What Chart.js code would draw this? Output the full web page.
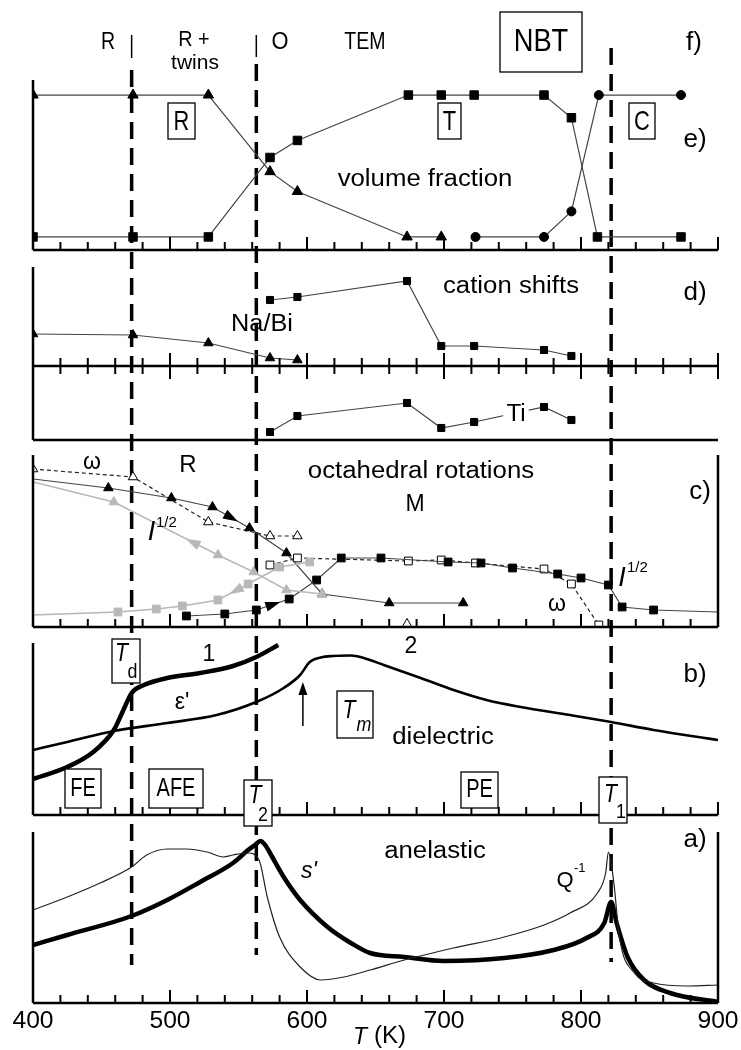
<!DOCTYPE html>
<html>
<head>
<meta charset="utf-8">
<title>NBT phase transitions</title>
<script src="https://cdn.jsdelivr.net/npm/chart.js@4.4.1/dist/chart.umd.min.js"></script>
<style>
  body { margin: 0; background: #fff; }
  #figure { position: relative; width: 741px; height: 1050px; }
  #figure canvas { position: absolute; left: 0; top: 0; }
</style>
</head>
<body>
<div id="figure"></div>
<script>
// ---- temperatures (K) and values per panel ----

// e) volume fraction of the phases
const tRhomb = [400, 473, 528, 573, 593, 673, 698];
const fracRhomb = [1, 1, 1, 0.46, 0.32, 0, 0];
const tTetra = [400, 473, 528, 573, 593, 674, 698, 722, 773, 793, 812, 873];
const fracTetra = [0, 0, 0, 0.56, 0.68, 1, 1, 1, 1, 0.84, 0, 0];
const tCubic = [723, 773, 793, 813, 873];
const fracCubic = [0, 0, 0.18, 1, 1];

// d) cation shifts (arb. units)
const tNaBiR = [400, 473, 528, 573, 593];
const shiftNaBiR = [3.2, 3.1, 2.3, 0.8, 0.6];
const tNaBiT = [573, 593, 673, 698, 722, 773, 793];
const shiftNaBiT = [6.6, 6.9, 8.5, 2.0, 2.0, 1.6, 1.0];
const tTi = [573, 593, 673, 698, 722, 773, 793];
const shiftTi = [0.8, 2.4, 3.7, 1.2, 1.8, 3.3, 2.0];

// c) octahedral rotations (arb. units)
const tRotRCool = [400, 459, 535, 561, 585, 611];
const rotRCool = [14.5, 12.5, 7.2, 5.5, 3.7, 3.3];
const tRotMCool = [400, 462, 490, 509, 535, 557, 580, 602];
const rotMCool = [1.2, 1.5, 1.8, 2.1, 2.7, 4.3, 6.0, 6.5];
const tRotR = [400, 455, 501, 531, 558, 585, 611, 660, 714];
const rotR = [14.8, 13.9, 12.9, 12.0, 9.9, 7.4, 3.3, 2.4, 2.4];
const tRotM = [512, 540, 563, 587, 607, 625, 654, 703, 727, 750, 783, 800, 820, 830, 853, 900];
const rotM = [1.1, 1.3, 1.7, 2.8, 4.7, 6.9, 6.9, 6.5, 6.4, 5.9, 5.3, 4.9, 4.2, 2.0, 1.7, 1.5];
const tOmegaR = [400, 473, 528, 573, 593];
const omegaR = [15.8, 15.0, 10.5, 9.1, 9.1];
const tOmegaRHigh = [673];
const omegaRHigh = [0.3];
const tOmegaM = [573, 593, 674, 698, 723, 773, 793, 813];
const omegaM = [6.2, 6.9, 6.6, 6.7, 6.4, 5.8, 4.3, 0.2];

// b) dielectric permittivity (arb. units)
const tEps1 = [400, 425, 444, 459, 466, 472, 481, 498, 522, 546, 563, 579];
const eps1 = [3.6, 4.8, 6.3, 8.5, 10.5, 12.2, 13.0, 13.7, 14.2, 14.9, 15.8, 17.0];
const tEps2 = [400, 425, 459, 498, 534, 563, 583, 595, 602, 610, 619, 632, 646, 656, 683, 707, 731, 756, 792, 822, 853, 900];
const eps2 = [6.5, 7.3, 8.4, 9.2, 10.0, 11.3, 12.7, 14.0, 15.3, 15.75, 15.9, 15.95, 15.5, 15.0, 13.7, 12.5, 11.5, 10.8, 10.0, 9.3, 8.5, 7.5];

// a) anelastic: compliance s' and losses Q^-1 (arb. units)
const tCompl = [400, 425, 472, 498, 522, 546, 557, 562, 566, 570, 573, 583, 595, 615, 632, 646, 671, 700, 744, 780, 804, 817, 822, 826, 834, 846, 865, 900];
const compl = [5.8, 6.8, 8.7, 10.3, 12.1, 14.0, 15.3, 15.8, 16.2, 15.7, 15.0, 12.6, 10.3, 7.6, 6.0, 5.0, 4.6, 4.2, 4.5, 5.3, 6.5, 8.0, 10.1, 8.0, 4.6, 2.3, 1.0, 0.1];
const tLoss = [400, 425, 449, 472, 483, 498, 512, 527, 539, 546, 557, 565, 571, 580, 595, 610, 627, 646, 671, 707, 744, 773, 792, 812, 818, 820, 824, 828, 839, 853, 878, 900];
const loss = [9.3, 10.6, 12.0, 13.6, 14.8, 15.4, 15.4, 15.1, 14.6, 14.8, 15.0, 14.3, 10.6, 6.6, 3.6, 2.3, 2.6, 3.3, 4.3, 5.5, 6.6, 7.8, 9.0, 11.0, 13.0, 15.1, 12.0, 6.6, 3.0, 2.0, 1.7, 1.8];

// transition temperatures and temperature axis
const transitions = { Td: 472, T2: 563, T1: 822 };
const xTickLabels = [400, 500, 600, 700, 800, 900];
const T_MIN = 400, T_MAX = 900, T_STEP = 20;

// ---- styling ----
const FONT = '"Liberation Sans", Arial, Helvetica, sans-serif';
const INK = '#000';
const LINE = '#444';
const GREY = '#b8b8b8';
const W = 741, H = 1050;

const frames = {
  e: { top: 80, bottom: 250 },
  d: { top: 267, bottom: 440 },
  c: { top: 455, bottom: 627 },
  b: { top: 643, bottom: 815 },
  a: { top: 832, bottom: 1003 }
};

function series(temps, vals, opts) {
  return Object.assign({
    data: temps.map((t, i) => ({ x: t, y: vals[i] })),
    borderColor: LINE,
    borderWidth: 1.2,
    tension: 0,
    clip: 0,
    pointRadius: 0
  }, opts);
}

function marks(style, r, fill, edge, hideFirst) {
  return {
    pointStyle: style,
    pointRadius: hideFirst ? (c => c.dataIndex === 0 ? 0 : r) : r,
    pointBackgroundColor: fill,
    pointBorderColor: edge,
    pointBorderWidth: 1
  };
}

function text(ctx, str, x, y, size, opt) {
  opt = opt || {};
  ctx.save();
  ctx.translate(x, y);
  ctx.scale(opt.sx || 1, 1);
  ctx.font = (opt.italic ? 'italic ' : '') + size + 'px ' + FONT;
  ctx.textAlign = opt.align || 'center';
  ctx.textBaseline = 'middle';
  if (opt.bg) {
    const w = ctx.measureText(str).width + 6;
    ctx.fillStyle = '#fff';
    ctx.fillRect(-w / 2, -size / 2, w, size);
  }
  ctx.fillStyle = INK;
  ctx.fillText(str, 0, 0);
  ctx.restore();
}

function box(ctx, x0, y0, x1, y1) {
  ctx.save();
  ctx.fillStyle = '#fff';
  ctx.fillRect(x0, y0, x1 - x0, y1 - y0);
  ctx.strokeStyle = INK;
  ctx.lineWidth = 1.3;
  ctx.strokeRect(x0, y0, x1 - x0, y1 - y0);
  ctx.restore();
}

function line(ctx, x0, y0, x1, y1, w) {
  ctx.save();
  ctx.strokeStyle = INK;
  ctx.lineWidth = w;
  ctx.beginPath();
  ctx.moveTo(x0, y0);
  ctx.lineTo(x1, y1);
  ctx.stroke();
  ctx.restore();
}

// temperature axis with inward ticks (major every 100 K)
function tickRow(ctx, chart, y, up, down) {
  const xs = chart.scales.x;
  line(ctx, chart.chartArea.left, y, chart.chartArea.right, y, 2.5);
  ctx.save();
  ctx.strokeStyle = INK;
  ctx.lineWidth = 2;
  for (let t = T_MIN; t <= T_MAX; t += T_STEP) {
    const len = t % 100 === 0 ? 13 : 8;
    const x = xs.getPixelForValue(t);
    ctx.beginPath();
    ctx.moveTo(x, y - (up ? len : 0));
    ctx.lineTo(x, y + (down ? len : 0));
    ctx.stroke();
  }
  ctx.restore();
}

// small filled arrowhead sitting on a dataset segment
function arrowOn(ctx, chart, dsIndex, seg, frac, dir, color) {
  const pts = chart.getDatasetMeta(dsIndex).data;
  const p = pts[seg], q = pts[seg + 1];
  const x = p.x + (q.x - p.x) * frac, y = p.y + (q.y - p.y) * frac;
  let ang = Math.atan2(q.y - p.y, q.x - p.x);
  if (dir < 0) ang += Math.PI;
  ctx.save();
  ctx.translate(x, y);
  ctx.rotate(ang);
  ctx.beginPath();
  ctx.moveTo(8, 0);
  ctx.lineTo(-7, -5);
  ctx.lineTo(-7, 5);
  ctx.closePath();
  ctx.fillStyle = color;
  ctx.fill();
  ctx.restore();
}

function makePanel(frame, datasets, yScales, draw, under) {
  const canvas = document.createElement('canvas');
  canvas.width = W;
  canvas.height = H;
  document.getElementById('figure').appendChild(canvas);
  const scales = Object.assign({
    x: { type: 'linear', min: T_MIN, max: T_MAX, display: false }
  }, yScales);
  return new Chart(canvas, {
    type: 'line',
    data: { datasets: datasets },
    options: {
      responsive: false,
      animation: false,
      events: [],
      layout: { padding: { left: 33, right: 23, top: frame.top, bottom: H - frame.bottom } },
      plugins: { legend: { display: false }, tooltip: { enabled: false } },
      scales: scales
    },
    plugins: [{
      id: 'panelDecor',
      beforeDatasetsDraw: c => { if (under) under(c.ctx, c); },
      afterDraw: c => draw(c.ctx, c)
    }]
  });
}

/* ================= e) VOLUME FRACTION (+ phase labels f) ================= */
makePanel(frames.e, [
  series(tRhomb, fracRhomb, marks('triangle', 6, INK, INK)),
  series(tTetra, fracTetra, marks('rect', 6, INK, INK)),
  series(tCubic, fracCubic, marks('circle', 4.5, INK, INK))
], {
  y: { type: 'linear', min: -0.092, max: 1.106, display: false }
}, (ctx, chart) => {
  const a = chart.chartArea;
  line(ctx, a.left, a.top, a.left, a.bottom, 2.5);
  tickRow(ctx, chart, a.bottom, true, false);

  text(ctx, 'R', 108, 43, 23, { sx: 0.85 });
  text(ctx, 'R +', 194, 40, 22, { sx: 0.9 });
  text(ctx, 'twins', 195, 63, 21, { sx: 1.0 });
  text(ctx, 'O', 280, 43, 23, { sx: 0.95 });
  text(ctx, 'TEM', 365, 43, 23, { sx: 0.85 });
  box(ctx, 500, 12, 582, 72);
  text(ctx, 'NBT', 541, 42, 31, { sx: 0.88 });
  text(ctx, 'f)', 694, 43, 26);

  box(ctx, 168, 103, 195, 139);
  text(ctx, 'R', 181.5, 122, 28, { sx: 0.78 });
  box(ctx, 438, 103, 461, 139);
  text(ctx, 'T', 449.5, 122, 28, { sx: 0.78 });
  box(ctx, 629, 103, 655, 139);
  text(ctx, 'C', 642, 122, 28, { sx: 0.78 });
  text(ctx, 'e)', 695, 140, 26);
  text(ctx, 'volume fraction', 425, 180, 23, { sx: 1.12 });
}, (ctx, chart) => {
  // transition temperatures running through all panels
  const xs = chart.scales.x;
  const xd = xs.getPixelForValue(transitions.Td);
  const x2 = xs.getPixelForValue(transitions.T2);
  const x1 = xs.getPixelForValue(transitions.T1);
  line(ctx, xd, 35, xd, 58, 1.5);
  line(ctx, x2, 35, x2, 57, 1.5);
  ctx.save();
  ctx.strokeStyle = INK;
  ctx.lineWidth = 3.5;
  ctx.setLineDash([17, 9]);
  [[xd, 70, 965], [x2, 64, 955], [x1, 48, 962]].forEach(([x, y0, y1]) => {
    ctx.beginPath();
    ctx.moveTo(x, y0);
    ctx.lineTo(x, y1);
    ctx.stroke();
  });
  ctx.restore();
});

/* ================= d) CATION SHIFTS ================= */
makePanel(frames.d, [
  series(tNaBiR, shiftNaBiR, marks('triangle', 5.5, INK, INK)),
  series(tNaBiT, shiftNaBiT, marks('rect', 5, INK, INK)),
  series(tTi, shiftTi, Object.assign({ yAxisID: 'yTi' }, marks('rect', 5, INK, INK)))
], {
  y: { type: 'linear', min: -7.4, max: 9.9, display: false },
  yTi: { type: 'linear', min: 0, max: 17.3, display: false }
}, (ctx, chart) => {
  const a = chart.chartArea;
  line(ctx, a.left, a.top, a.left, a.bottom, 2.5);
  tickRow(ctx, chart, chart.scales.y.getPixelForValue(0), true, true);
  line(ctx, a.left, a.bottom, a.right, a.bottom, 2.5);

  text(ctx, 'Na/Bi', 262, 325, 23, { sx: 1.1 });
  text(ctx, 'cation shifts', 511, 287, 23, { sx: 1.12 });
  text(ctx, 'd)', 695, 293, 26);
  text(ctx, 'Ti', 516, 415, 23, { sx: 1.05, bg: true });
});

/* ================= c) OCTAHEDRAL ROTATIONS ================= */
makePanel(frames.c, [
  series(tRotRCool, rotRCool, Object.assign({ borderColor: GREY, borderWidth: 1.5 }, marks('triangle', 5.5, GREY, GREY, true))),
  series(tRotMCool, rotMCool, Object.assign({ borderColor: GREY, borderWidth: 1.5 }, marks('rect', 5.5, GREY, GREY, true))),
  series(tRotR, rotR, marks('triangle', 5.5, INK, INK, true)),
  series(tRotM, rotM, Object.assign(marks('rect', 5.5, INK, INK), {
    pointRadius: c => c.dataIndex === tRotM.length - 1 ? 0 : 5.5
  })),
  series(tOmegaR, omegaR, Object.assign({ borderDash: [4, 3], borderColor: '#222' }, marks('triangle', 5.5, '#fff', INK))),
  series(tOmegaRHigh, omegaRHigh, marks('triangle', 5.5, '#fff', INK)),
  series(tOmegaM, omegaM, Object.assign({ borderDash: [4, 3], borderColor: '#222' }, marks('rect', 5.5, '#fff', INK)))
], {
  y: { type: 'linear', min: 0, max: 17.2, display: false }
}, (ctx, chart) => {
  const a = chart.chartArea;
  line(ctx, a.left, a.top, a.left, a.bottom, 2.5);
  line(ctx, a.right, a.top, a.right, a.bottom, 2.5);
  tickRow(ctx, chart, a.bottom, true, false);

  arrowOn(ctx, chart, 2, 3, 0.5, 1, INK);
  arrowOn(ctx, chart, 3, 2, 0.5, 1, INK);
  arrowOn(ctx, chart, 0, 1, 0.76, -1, GREY);
  arrowOn(ctx, chart, 1, 4, 0.6, -1, GREY);

  text(ctx, 'ω', 92, 463, 23);
  text(ctx, 'R', 188, 465, 24);
  text(ctx, 'octahedral rotations', 421, 472, 23, { sx: 1.12 });
  text(ctx, 'M', 415, 505, 23);
  text(ctx, 'I', 151.5, 532, 27, { italic: true });
  text(ctx, '1/2', 156, 523, 15, { align: 'left' });
  text(ctx, 'I', 622, 578, 27, { italic: true });
  text(ctx, '1/2', 627, 568, 15, { align: 'left' });
  text(ctx, 'ω', 557, 605, 23);
  text(ctx, 'c)', 700, 492, 26);
});

/* ================= b) DIELECTRIC ================= */
makePanel(frames.b, [
  series(tEps1, eps1, { borderColor: INK, borderWidth: 4.5, cubicInterpolationMode: 'monotone' }),
  series(tEps2, eps2, { borderColor: INK, borderWidth: 2.6, cubicInterpolationMode: 'monotone' })
], {
  y: { type: 'linear', min: 0, max: 17.2, display: false }
}, (ctx, chart) => {
  const a = chart.chartArea;
  line(ctx, a.left, a.top, a.left, a.bottom, 2.5);
  tickRow(ctx, chart, a.bottom, true, false);

  // arrow marking the dielectric anomaly of curve 2
  const xm = chart.scales.x.getPixelForValue(597);
  line(ctx, xm, 726, xm, 692, 1.5);
  ctx.save();
  ctx.beginPath();
  ctx.moveTo(xm, 682);
  ctx.lineTo(xm - 4.5, 695);
  ctx.lineTo(xm + 4.5, 695);
  ctx.closePath();
  ctx.fillStyle = INK;
  ctx.fill();
  ctx.restore();

  text(ctx, '1', 209, 655, 23);
  text(ctx, '2', 411, 647, 23);
  text(ctx, 'ε\'', 182, 703, 23);
  text(ctx, 'b)', 695, 675, 26);
  text(ctx, 'dielectric', 443, 738, 23, { sx: 1.12 });

  box(ctx, 112, 639, 140, 683);
  text(ctx, 'T', 121.5, 654, 25, { italic: true, sx: 0.85 });
  text(ctx, 'd', 132.5, 672, 21, { sx: 0.85 });
  box(ctx, 337, 691, 373, 738);
  text(ctx, 'T', 349, 711, 25, { italic: true, sx: 0.85 });
  text(ctx, 'm', 364, 725, 21, { italic: true, sx: 0.85 });

  box(ctx, 65, 769, 101, 808);
  text(ctx, 'FE', 83, 789, 26, { sx: 0.77 });
  box(ctx, 149, 769, 203, 808);
  text(ctx, 'AFE', 176, 789, 26, { sx: 0.77 });
  box(ctx, 461, 772, 498, 808);
  text(ctx, 'PE', 479.5, 790, 26, { sx: 0.77 });

  box(ctx, 244, 780, 272, 826);
  text(ctx, 'T', 255, 796, 25, { italic: true, sx: 0.85 });
  text(ctx, '2', 263, 815, 21, { sx: 0.85 });
  box(ctx, 599, 777, 627, 823);
  text(ctx, 'T', 610.5, 795, 25, { italic: true, sx: 0.85 });
  text(ctx, '1', 621, 812, 21, { sx: 0.85 });
});

/* ================= a) ANELASTIC ================= */
makePanel(frames.a, [
  series(tLoss, loss, { borderColor: '#222', borderWidth: 1.2, cubicInterpolationMode: 'monotone' }),
  series(tCompl, compl, { borderColor: INK, borderWidth: 4.5, cubicInterpolationMode: 'monotone' })
], {
  y: { type: 'linear', min: 0, max: 17.1, display: false }
}, (ctx, chart) => {
  const a = chart.chartArea;
  line(ctx, a.left, a.top, a.left, a.bottom, 2.5);
  line(ctx, a.right, a.top, a.right, a.bottom, 2.5);
  tickRow(ctx, chart, a.bottom, true, false);

  xTickLabels.forEach(t => {
    text(ctx, String(t), chart.scales.x.getPixelForValue(t), 1022, 23, { sx: 1.07 });
  });
  text(ctx, 'T', 360, 1038, 23, { italic: true });
  text(ctx, '(K)', 390, 1037, 23, { sx: 1.05 });

  text(ctx, 'anelastic', 435, 852, 23, { sx: 1.12 });
  text(ctx, 's\'', 309, 872, 23, { italic: true });
  text(ctx, 'Q', 565, 881, 22);
  text(ctx, '-1', 574, 868, 13, { align: 'left' });
  text(ctx, 'a)', 695, 840, 26);
});
</script>
</body>
</html>
